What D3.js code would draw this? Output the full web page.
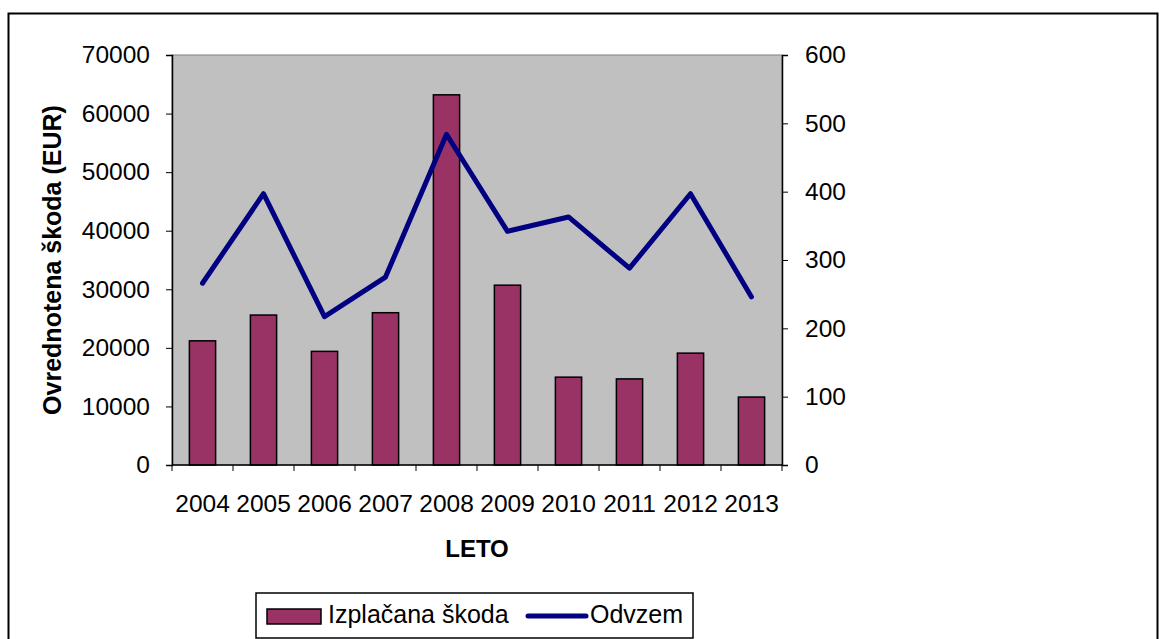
<!DOCTYPE html>
<html>
<head>
<meta charset="utf-8">
<script src="https://cdn.jsdelivr.net/npm/d3@7"></script>
<style>
body{margin:0;background:#fff;}
svg{display:block;font-family:"Liberation Sans",Arial,sans-serif;}
</style>
</head>
<body>
<script>
// data
var years = ['2004','2005','2006','2007','2008','2009','2010','2011','2012','2013'];
var skoda = [21200, 25600, 19400, 26000, 63200, 30700, 15000, 14700, 19100, 11600];
var odvzem = [266, 397, 217, 275, 484, 342, 363, 288, 397, 246];
var leftTicks = [0,10000,20000,30000,40000,50000,60000,70000];
var rightTicks = [0,100,200,300,400,500,600];

var W = 1167, H = 639;
var plotL = 172, plotR = 782, plotT = 55, plotB = 465;
var fontTick = 24.5;

var svg = d3.select('body').append('svg')
	.attr('width', W)
	.attr('height', H);

// outer frame
svg.append('rect')
	.attr('x', 8.5).attr('y', 13.5)
	.attr('width', 1149).attr('height', 640)
	.attr('fill', 'none')
	.attr('stroke', '#000')
	.attr('stroke-width', 2);

var x = d3.scaleBand().domain(years).range([plotL, plotR]).paddingInner(0.57).paddingOuter(0.285);
var xb = d3.scaleBand().domain(years).range([plotL, plotR]);
var yL = d3.scaleLinear().domain([0, 70000]).range([plotB, plotT]);
var yR = d3.scaleLinear().domain([0, 600]).range([plotB, plotT]);

// plot area
svg.append('rect')
	.attr('x', plotL).attr('y', plotT)
	.attr('width', plotR - plotL).attr('height', plotB - plotT)
	.attr('fill', '#c0c0c0')
	.attr('stroke', '#808080')
	.attr('stroke-width', 1);

// bars
svg.selectAll('rect.bar')
	.data(skoda)
	.enter()
	.append('rect')
	.attr('class', 'bar')
	.attr('x', function(d, i){ return x(years[i]); })
	.attr('y', function(d){ return yL(d); })
	.attr('width', x.bandwidth())
	.attr('height', function(d){ return plotB - yL(d); })
	.attr('fill', '#993366')
	.attr('stroke', '#000')
	.attr('stroke-width', 1.5);

// line
var line = d3.line()
	.x(function(d, i){ return xb(years[i]) + xb.bandwidth()/2; })
	.y(function(d){ return yR(d); });

svg.append('path')
	.datum(odvzem)
	.attr('d', line)
	.attr('fill', 'none')
	.attr('stroke', '#000080')
	.attr('stroke-width', 5)
	.attr('stroke-linejoin', 'round')
	.attr('stroke-linecap', 'round');

// axes
var axL = svg.append('g')
	.attr('transform', 'translate(' + plotL + ',0)')
	.call(d3.axisLeft(yL).tickValues(leftTicks).tickSize(6).tickPadding(16).tickFormat(d3.format('d')));
var axR = svg.append('g')
	.attr('transform', 'translate(' + plotR + ',0)')
	.call(d3.axisRight(yR).tickValues(rightTicks).tickSize(6).tickPadding(17).tickFormat(d3.format('d')));
var axB = svg.append('g')
	.attr('transform', 'translate(0,' + plotB + ')')
	.call(d3.axisBottom(xb).tickSize(0).tickPadding(30));

// tick marks at band boundaries for the category axis
var bounds = years.map(function(d){ return xb(d); }).concat([plotR]);
svg.selectAll('line.xt')
	.data(bounds)
	.enter()
	.append('line')
	.attr('class', 'xt')
	.attr('x1', function(d){ return d; })
	.attr('x2', function(d){ return d; })
	.attr('y1', plotB)
	.attr('y2', plotB + 6)
	.attr('stroke', '#000');

[axL, axR, axB].forEach(function(a){
	a.selectAll('text').attr('font-size', fontTick).attr('font-family', '"Liberation Sans",Arial,sans-serif').attr('fill', '#000');
	a.selectAll('path.domain').attr('stroke', '#000').attr('stroke-width', 1.5);
	a.selectAll('line').attr('stroke', '#000');
});
axB.select('path.domain').attr('d', 'M' + plotL + ',0H' + plotR);

// axis titles
svg.append('text')
	.attr('transform', 'translate(61,' + ((plotT + plotB)/2) + ') rotate(-90)')
	.attr('text-anchor', 'middle')
	.attr('font-size', 25)
	.attr('font-weight', 'bold')
	.text('Ovrednotena škoda (EUR)');

svg.append('text')
	.attr('x', (plotL + plotR)/2)
	.attr('y', 557)
	.attr('text-anchor', 'middle')
	.attr('font-size', 24)
	.attr('font-weight', 'bold')
	.text('LETO');

// legend
var lg = svg.append('g');
lg.append('rect')
	.attr('x', 256).attr('y', 593)
	.attr('width', 437).attr('height', 45)
	.attr('fill', '#fff')
	.attr('stroke', '#000')
	.attr('stroke-width', 1.5);
lg.append('rect')
	.attr('x', 267).attr('y', 609)
	.attr('width', 54).attr('height', 15)
	.attr('fill', '#993366')
	.attr('stroke', '#000')
	.attr('stroke-width', 1.5);
lg.append('text')
	.attr('x', 328).attr('y', 623)
	.attr('font-size', 25)
	.text('Izplačana škoda');
lg.append('line')
	.attr('x1', 528).attr('x2', 586)
	.attr('y1', 616).attr('y2', 616)
	.attr('stroke', '#000080')
	.attr('stroke-width', 5)
	.attr('stroke-linecap', 'round');
lg.append('text')
	.attr('x', 590).attr('y', 623)
	.attr('font-size', 25)
	.text('Odvzem');
</script>
</body>
</html>
